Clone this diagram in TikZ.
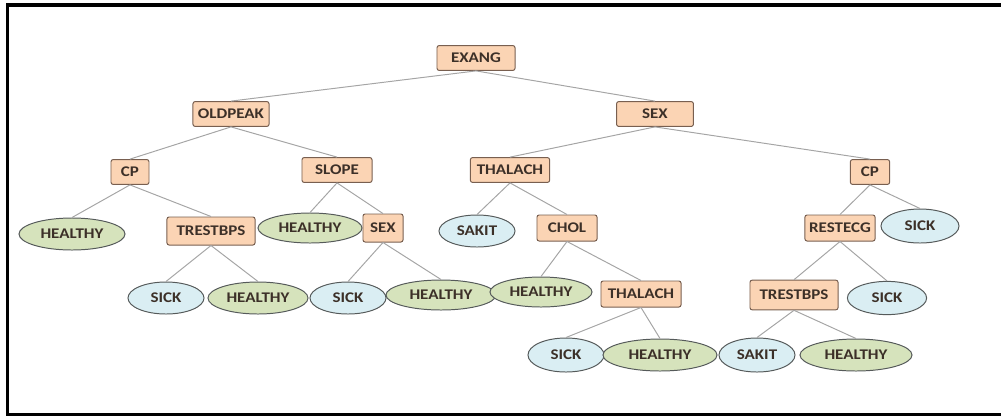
\documentclass[tikz,border=0pt]{standalone}
\usepackage{fontspec}
\setmainfont{Carlito}
\newfontfamily\nodefont[FakeStretch=1.15]{Carlito}
\usepackage{tikz}
\usetikzlibrary{shapes.geometric, positioning}
\definecolor{attrpeach}{HTML}{FBD4B4}
\definecolor{attredge}{RGB}{120,95,80}
\definecolor{healthygreen}{HTML}{D6E3BC}
\definecolor{sickblue}{HTML}{DAEEF3}
\definecolor{leafedge}{RGB}{85,90,90}
\definecolor{branchgray}{RGB}{165,165,165}
\definecolor{labeltext}{RGB}{60,48,40}

\tikzset{
    attr/.style={draw=attredge, fill=attrpeach, rounded corners=1.5pt, line width=0.7pt,
        font=\nodefont\fontsize{10.5}{11}\selectfont\bfseries, text=labeltext,
        inner xsep=3pt, minimum height=0.62cm},
    leaf/.style={ellipse, draw=leafedge, line width=0.7pt, inner sep=0pt,
        font=\nodefont\fontsize{10.5}{11}\selectfont\bfseries, text=labeltext, minimum height=0.8cm},
    healthy/.style={leaf, fill=healthygreen, minimum width=2.65cm},
    sick/.style={leaf, fill=sickblue, minimum width=1.9cm},
    branch/.style={draw=branchgray, line width=0.7pt}
}

\begin{document}
\begin{tikzpicture}[x=0.025cm, y=-0.025cm]
    \useasboundingbox (0,0) rectangle (1001,417);

    % Frame
    \draw[line width=2.2pt] (1001,5) -- (7.5,5) -- (7.5,414.5) -- (1001,414.5);

    % Level 1-3
    \node[attr, minimum width=1.95cm] (exang) at (476,58) {EXANG};
    \node[attr, minimum width=1.9cm] (oldpeak) at (231,114) {OLDPEAK};
    \node[attr, minimum width=1.92cm] (sexA) at (655,114) {SEX};
    \node[attr, minimum width=0.95cm] (cpA) at (130,172) {CP};
    \node[attr, minimum width=1.75cm] (slope) at (337,170) {SLOPE};
    \node[attr, minimum width=1.98cm] (thalachA) at (510,170) {THALACH};
    \node[attr, minimum width=0.98cm] (cpB) at (870,172) {CP};

    % Level 4
    \node[healthy] (healthyA) at (72,234) {HEALTHY};
    \node[attr, minimum width=2.2cm, minimum height=0.7cm] (trestbpsA) at (211,231) {TRESTBPS};
    \node[healthy, minimum width=2.6cm, minimum height=0.75cm] (healthyB) at (310,228) {HEALTHY};
    \node[attr, minimum width=1cm, minimum height=0.7cm] (sexB) at (383,228) {SEX};
    \node[sick] (sakitA) at (477,231) {SAKIT};
    \node[attr, minimum width=1.5cm, minimum height=0.65cm] (chol) at (567,228) {CHOL};
    \node[attr, minimum width=1.68cm, minimum height=0.65cm] (restecg) at (840,228) {RESTECG};
    \node[sick, minimum width=1.95cm, minimum height=0.85cm] (sickA) at (920,226) {SICK};

    % Level 5
    \node[sick] (sickB) at (166,298) {SICK};
    \node[healthy, minimum width=2.5cm] (healthyC) at (258,298) {HEALTHY};
    \node[sick] (sickC) at (348,298) {SICK};
    \node[healthy, minimum width=2.75cm, minimum height=0.75cm] (healthyD) at (441,295) {HEALTHY};
    \node[healthy, minimum width=2.55cm, minimum height=0.75cm] (healthyE) at (541,292) {HEALTHY};
    \node[attr, minimum width=2cm, minimum height=0.65cm] (thalachB) at (641,294) {THALACH};
    \node[attr, minimum width=2.2cm, minimum height=0.74cm] (trestbpsB) at (794,295) {TRESTBPS};
    \node[sick, minimum width=1.98cm, minimum height=0.83cm] (sickD) at (887,298) {SICK};

    % Level 6
    \node[sick, minimum height=0.85cm] (sickE) at (566,355) {SICK};
    \node[healthy, minimum width=2.85cm] (healthyF) at (660,355) {HEALTHY};
    \node[sick, minimum height=0.85cm] (sakitB) at (757,355) {SAKIT};
    \node[healthy, minimum width=2.8cm] (healthyG) at (856,355) {HEALTHY};

    % Branches
    \draw[branch] (exang.south) -- (oldpeak.north);
    \draw[branch] (exang.south) -- (sexA.north);
    \draw[branch] (oldpeak.south) -- (cpA.north);
    \draw[branch] (oldpeak.south) -- (slope.north);
    \draw[branch] (cpA.south) -- (healthyA.north);
    \draw[branch] (cpA.south) -- (trestbpsA.north);
    \draw[branch] (trestbpsA.south) -- (sickB.north);
    \draw[branch] (trestbpsA.south) -- (healthyC.north);
    \draw[branch] (slope.south) -- (healthyB.north);
    \draw[branch] (slope.south) -- (sexB.north);
    \draw[branch] (sexB.south) -- (sickC.north);
    \draw[branch] (sexB.south) -- (healthyD.north);
    \draw[branch] (sexA.south) -- (thalachA.north);
    \draw[branch] (sexA.south) -- (cpB.north);
    \draw[branch] (thalachA.south) -- (sakitA.north);
    \draw[branch] (thalachA.south) -- (chol.north);
    \draw[branch] (chol.south) -- (healthyE.north);
    \draw[branch] (chol.south) -- (thalachB.north);
    \draw[branch] (thalachB.south) -- (sickE.north);
    \draw[branch] (thalachB.south) -- (healthyF.north);
    \draw[branch] (cpB.south) -- (restecg.north);
    \draw[branch] (cpB.south) -- (sickA.north);
    \draw[branch] (restecg.south) -- (trestbpsB.north);
    \draw[branch] (restecg.south) -- (sickD.north);
    \draw[branch] (trestbpsB.south) -- (sakitB.north);
    \draw[branch] (trestbpsB.south) -- (healthyG.north);
\end{tikzpicture}
\end{document}
